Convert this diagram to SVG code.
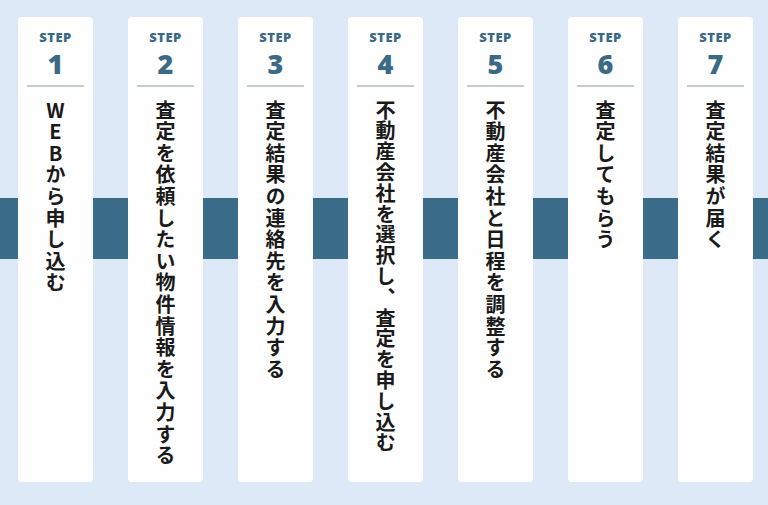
<svg xmlns="http://www.w3.org/2000/svg" width="768" height="505" viewBox="0 0 768 505">
<style>
.card{fill:#fefefe}
.step{font-family:"Open Sans","Liberation Sans",sans-serif;font-weight:800;font-size:13px;fill:#3b6a86;text-anchor:middle;letter-spacing:0.5px}
.num{font-family:"Open Sans","Liberation Sans",sans-serif;font-weight:800;font-size:27px;fill:#3b6a86;text-anchor:middle}
.rule{stroke:#8a9aa6;stroke-width:1.2}
.v{font-family:"Noto Sans CJK JP","Noto Sans",sans-serif;font-weight:700;font-size:20px;fill:#1a1a1a;writing-mode:vertical-rl;text-orientation:upright;letter-spacing:1.6px}
</style>
<rect width="768" height="505" fill="#dde9f6"/>
<rect x="0" y="198" width="768" height="61" fill="#3b6c89"/>
<g id="step1"><rect class="card" x="18" y="17" width="75" height="465" rx="4"/><text class="step" x="55.5" y="42">STEP</text><text class="num" x="55.5" y="74">1</text><line class="rule" x1="27" y1="86" x2="84" y2="86"/><text class="v" x="55.5" y="100">WEBから申し込む</text></g>
<g id="step2"><rect class="card" x="128" y="17" width="75" height="465" rx="4"/><text class="step" x="165.5" y="42">STEP</text><text class="num" x="165.5" y="74">2</text><line class="rule" x1="137" y1="86" x2="194" y2="86"/><text class="v" x="165.5" y="100">査定を依頼したい物件情報を入力する</text></g>
<g id="step3"><rect class="card" x="238" y="17" width="75" height="465" rx="4"/><text class="step" x="275.5" y="42">STEP</text><text class="num" x="275.5" y="74">3</text><line class="rule" x1="247" y1="86" x2="304" y2="86"/><text class="v" x="275.5" y="100">査定結果の連絡先を入力する</text></g>
<g id="step4"><rect class="card" x="348" y="17" width="75" height="465" rx="4"/><text class="step" x="385.5" y="42">STEP</text><text class="num" x="385.5" y="74">4</text><line class="rule" x1="357" y1="86" x2="414" y2="86"/><text class="v" x="385.5" y="100" style="letter-spacing:0.8px">不動産会社を選択し、査定を申し込む</text></g>
<g id="step5"><rect class="card" x="458" y="17" width="75" height="465" rx="4"/><text class="step" x="495.5" y="42">STEP</text><text class="num" x="495.5" y="74">5</text><line class="rule" x1="467" y1="86" x2="524" y2="86"/><text class="v" x="495.5" y="100">不動産会社と日程を調整する</text></g>
<g id="step6"><rect class="card" x="568" y="17" width="75" height="465" rx="4"/><text class="step" x="605.5" y="42">STEP</text><text class="num" x="605.5" y="74">6</text><line class="rule" x1="577" y1="86" x2="634" y2="86"/><text class="v" x="605.5" y="100">査定してもらう</text></g>
<g id="step7"><rect class="card" x="678" y="17" width="75" height="465" rx="4"/><text class="step" x="715.5" y="42">STEP</text><text class="num" x="715.5" y="74">7</text><line class="rule" x1="687" y1="86" x2="744" y2="86"/><text class="v" x="715.5" y="100">査定結果が届く</text></g>
<g id="connectors"/>
</svg>
